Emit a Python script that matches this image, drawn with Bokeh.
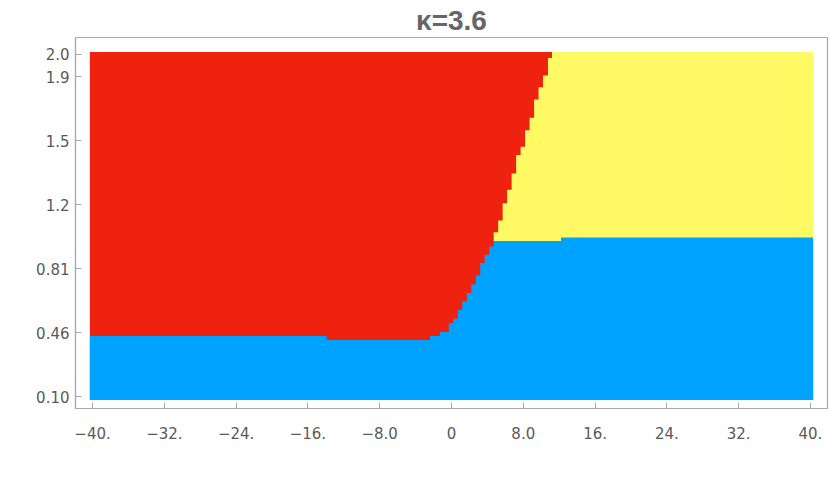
from bokeh.plotting import figure
from bokeh.models import FixedTicker, Range1d
from bokeh.embed import file_html
from bokeh.resources import INLINE

# ---- data ----
title_text = "κ=3.6"
x_domain = [-40.3, 40.3]
y_domain = [0.083, 2.014]

# red / yellow boundary: for each y band, red extends to x = red_right
red_y_edges = [0.962, 1.013, 1.078, 1.173, 1.248, 1.339, 1.441, 1.487,
               1.579, 1.649, 1.75, 1.818, 1.883, 1.98, 2.014]
red_right = [4.7, 5.2, 5.7, 6.2, 6.7, 7.2, 7.7, 8.2, 8.7, 9.2, 9.7, 10.2,
             10.75, 11.2]

# blue region: for each x band, blue extends up to y = blue_top
blue_x_edges = [-40.3, -13.9, -2.4, -1.3, -0.3, 0.2, 0.7, 1.2, 1.7, 2.2,
                2.7, 3.2, 3.7, 4.2, 4.7, 12.2, 40.3]
blue_top = [0.437, 0.415, 0.437, 0.459, 0.507, 0.533, 0.581, 0.630, 0.676,
            0.723, 0.772, 0.842, 0.888, 0.934, 0.962, 0.984]

x_ticks = [-40, -32, -24, -16, -8, 0, 8, 16, 24, 32, 40]
x_tick_labels = ["\u221240.", "\u221232.", "\u221224.", "\u221216.", "\u22128.0",
                 "0", "8.0", "16.", "24.", "32.", "40."]
y_ticks = [0.1, 0.455, 0.81, 1.165, 1.52, 1.875, 2.0]
y_tick_labels = ["0.10", "0.46", "0.81", "1.2", "1.5", "1.9", "2.0"]

RED = "#EE220F"
YELLOW = "#FFF963"
BLUE = "#00A2FF"
FRAME = "#AAAAAA"
TXT = "#5A5A5A"

# ---- polygons built from the step boundaries ----
red_xs = [x_domain[0], x_domain[0]]
red_ys = [y_domain[0], red_y_edges[-1]]
for i in range(len(red_right) - 1, -1, -1):
    red_xs += [red_right[i], red_right[i]]
    red_ys += [red_y_edges[i + 1], red_y_edges[i]]
red_xs += [x_domain[1], x_domain[1]]
red_ys += [red_y_edges[0], y_domain[0]]

blue_xs = [blue_x_edges[0]]
blue_ys = [y_domain[0]]
for i in range(len(blue_top)):
    blue_xs += [blue_x_edges[i], blue_x_edges[i + 1]]
    blue_ys += [blue_top[i], blue_top[i]]
blue_xs += [blue_x_edges[-1]]
blue_ys += [y_domain[0]]

p = figure(width=830, height=478, output_backend="svg", toolbar_location=None,
           x_range=Range1d(-41.9, 41.9), y_range=Range1d(0.034, 2.094),
           min_border_left=75, min_border_right=3, min_border_top=35,
           min_border_bottom=70, title=title_text)

p.quad(left=[x_domain[0]], right=[x_domain[1]], bottom=[y_domain[0]],
       top=[y_domain[1]], fill_color=YELLOW, line_color=None)
p.patch(red_xs, red_ys, fill_color=RED, line_color=None)
p.patch(blue_xs, blue_ys, fill_color=BLUE, line_color=None)

p.grid.visible = False
p.outline_line_color = FRAME
p.outline_line_width = 1.2
p.background_fill_color = "white"
p.border_fill_color = "white"

p.title.align = "center"
p.title.text_font = "Liberation Sans"
p.title.text_font_size = "28px"
p.title.text_font_style = "bold"
p.title.text_color = "#666666"
p.title.standoff = 4

p.xaxis.ticker = FixedTicker(ticks=x_ticks)
p.xaxis.major_label_overrides = dict(zip(x_ticks, x_tick_labels))
p.yaxis.ticker = FixedTicker(ticks=y_ticks)
p.yaxis.major_label_overrides = dict(zip(y_ticks, y_tick_labels))

for ax in (p.xaxis[0], p.yaxis[0]):
    ax.axis_line_color = FRAME
    ax.axis_line_width = 1.2
    ax.major_tick_in = 6
    ax.major_tick_out = 0
    ax.major_tick_line_color = FRAME
    ax.minor_tick_line_color = None
    ax.major_label_text_font = "DejaVu Sans"
    ax.major_label_text_font_size = "15px"
    ax.major_label_text_color = TXT

p.xaxis.major_label_standoff = 18
p.yaxis.major_label_standoff = 6

open("out.html", "w").write(file_html(p, INLINE))
